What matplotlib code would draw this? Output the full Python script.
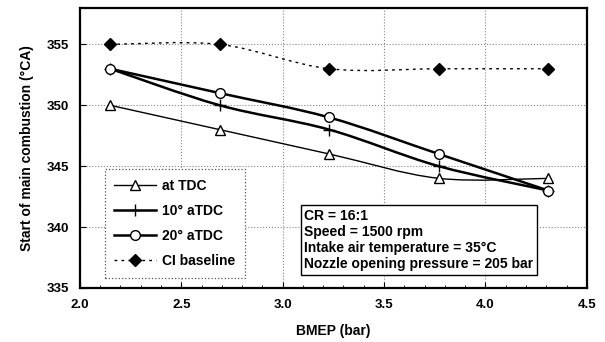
import numpy as np
import matplotlib.pyplot as plt
from matplotlib.path import Path
from matplotlib.patches import PathPatch
from matplotlib.lines import Line2D
from matplotlib.ticker import MultipleLocator

plt.rcParams['font.family'] = ['Liberation Sans', 'DejaVu Sans']
plt.rcParams['font.weight'] = 'bold'

# Data
bmep = [2.15, 2.69, 3.23, 3.77, 4.31]
at_tdc = [350, 348, 346, 344, 344]
aTDC_10 = [353, 350, 348, 345, 343]
aTDC_20 = [353, 351, 349, 346, 343]
ci_baseline = [355, 355, 353, 353, 353]


def smooth_path(x, y):
    # Catmull-Rom style bezier through the points (like Excel smoothed lines)
    pts = np.column_stack([x, y]).astype(float)
    n = len(pts)
    verts = [pts[0]]
    codes = [Path.MOVETO]
    for i in range(n - 1):
        p0 = pts[i - 1] if i > 0 else pts[i]
        p1 = pts[i]
        p2 = pts[i + 1]
        p3 = pts[i + 2] if i + 2 < n else pts[i + 1]
        c1 = p1 + (p2 - p0) / 6.0
        c2 = p2 - (p3 - p1) / 6.0
        verts += [c1, c2, p2]
        codes += [Path.CURVE4] * 3
    return Path(verts, codes)


fig = plt.figure(figsize=(6.05, 3.42), dpi=100)
ax = fig.add_axes([0.132, 0.158, 0.838, 0.819])

series = [
    (at_tdc, 'at TDC', '^', 1.0, '-', 'white'),
    (aTDC_10, '10° aTDC', '+', 1.8, '-', 'black'),
    (aTDC_20, '20° aTDC', 'o', 1.8, '-', 'white'),
    (ci_baseline, 'CI baseline', 'D', 1.0, (0, (2, 3)), 'black'),
]

handles = []
for y, lab, mk, lw, ls, fc in series:
    ax.add_patch(PathPatch(smooth_path(bmep, y), fill=False, lw=lw, ls=ls,
                           edgecolor='black', zorder=3))
    ms = 8 if mk == '+' else (6 if mk == 'D' else 7)
    ax.plot(bmep, y, ls='none', marker=mk, ms=ms, mfc=fc, mec='black',
            mew=1.0, zorder=4)
    handles.append(Line2D([], [], color='black', lw=lw, ls=ls, marker=mk,
                          ms=ms, mfc=fc, mec='black', mew=1.0))

ax.set_xlim(2.0, 4.5)
ax.set_ylim(335, 358)
ax.xaxis.set_major_locator(MultipleLocator(0.5))
ax.xaxis.set_minor_locator(MultipleLocator(0.1))
ax.set_yticks([335, 340, 345, 350, 355])
ax.grid(True, which='major', color='#888888', ls=':', lw=0.8)
ax.tick_params(axis='both', which='major', direction='in', length=4,
               labelsize=9.5, pad=8)
ax.tick_params(axis='x', which='minor', direction='in', length=2)
ax.set_xticklabels([f'{v:.1f}' for v in ax.get_xticks()])
for s in ax.spines.values():
    s.set_linewidth(1.6)

ax.set_xlabel('BMEP (bar)', fontsize=10, fontweight='bold', labelpad=9)
ax.set_ylabel('Start of main combustion (°CA)', fontsize=10,
              fontweight='bold', labelpad=9)

leg = ax.legend(handles, [s[1] for s in series], loc='lower left',
                bbox_to_anchor=(0.049, 0.036), fontsize=10, handlelength=3.0,
                handletextpad=0.45, labelspacing=0.8, borderpad=0.7,
                borderaxespad=0.0, fancybox=False, framealpha=1,
                edgecolor='#555555')
leg.get_frame().set_linestyle(':')
leg.get_frame().set_linewidth(0.9)

ax.text(0.443, 0.06,
        'CR = 16:1\nSpeed = 1500 rpm\nIntake air temperature = 35°C\n'
        'Nozzle opening pressure = 205 bar',
        transform=ax.transAxes, fontsize=10, fontweight='bold',
        linespacing=1.2, va='bottom', ha='left', zorder=5,
        bbox=dict(boxstyle='square,pad=0.25', fc='white', ec='black', lw=1.0))

fig.savefig('out.png', dpi=100)
